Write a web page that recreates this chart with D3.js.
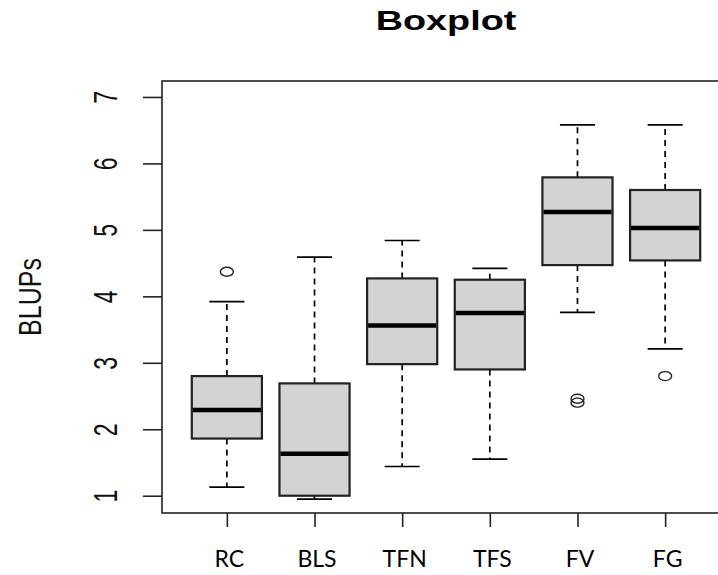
<!DOCTYPE html>
<html>
<head>
<meta charset="utf-8">
<script src="https://cdn.jsdelivr.net/npm/d3@7"></script>
<style>
  html, body { margin: 0; padding: 0; background: #fff; }
  svg { display: block; }
</style>
</head>
<body>
<div id="chart"></div>
<script>
// Values
const categories = ['RC', 'BLS', 'TFN', 'TFS', 'FV', 'FG'];
const whiskerLow = [1.13, 0.95, 1.44, 1.55, 3.76, 3.21];
const q1 = [1.86, 1.00, 2.98, 2.90, 4.47, 4.54];
const medians = [2.29, 1.63, 3.56, 3.75, 5.27, 5.03];
const q3 = [2.80, 2.69, 4.27, 4.25, 5.79, 5.60];
const whiskerHigh = [3.92, 4.59, 4.84, 4.42, 6.58, 6.58];
const outliers = [[4.37], [], [], [], [2.46, 2.40], [2.80]];
const yTicks = [1, 2, 3, 4, 5, 6, 7];

const W = 718, H = 575;
const plot = { left: 162, top: 81, right: 730, bottom: 513 };

const svg = d3.select('#chart').append('svg')
  .attr('width', W)
  .attr('height', H);

// scales (R style: 4% padding around the data range)
const x = d3.scaleLinear()
  .domain([0.26, 6.74])
  .range([plot.left, plot.right]);

const y = d3.scaleLinear()
  .domain([0.74, 7.24])
  .range([plot.bottom, plot.top]);

const boxW = x(1.8) - x(1);   // boxwex 0.8
const capW = boxW / 2;

const boxes = categories.map((c, i) => ({
  name: c, pos: i + 1,
  lo: whiskerLow[i], q1: q1[i], med: medians[i], q3: q3[i], hi: whiskerHigh[i],
  out: outliers[i]
}));

const g = svg.append('g');

// whiskers
g.selectAll('.whisker')
  .data(boxes)
  .enter()
  .append('g')
  .each(function(d) {
    const s = d3.select(this);
    const cx = x(d.pos);
    s.append('line')
      .attr('x1', cx).attr('x2', cx)
      .attr('y1', y(d.q3)).attr('y2', y(d.hi))
      .attr('stroke', '#000').attr('stroke-width', 1.7)
      .attr('stroke-dasharray', '6,5');
    s.append('line')
      .attr('x1', cx).attr('x2', cx)
      .attr('y1', y(d.q1)).attr('y2', y(d.lo))
      .attr('stroke', '#000').attr('stroke-width', 1.7)
      .attr('stroke-dasharray', '6,5');
    s.selectAll('.cap')
      .data([d.lo, d.hi])
      .enter()
      .append('line')
      .attr('x1', cx - capW / 2).attr('x2', cx + capW / 2)
      .attr('y1', v => y(v)).attr('y2', v => y(v))
      .attr('stroke', '#000').attr('stroke-width', 1.7);
  });

// boxes
g.selectAll('.box')
  .data(boxes)
  .enter()
  .append('rect')
  .attr('class', 'box')
  .attr('x', d => x(d.pos) - boxW / 2)
  .attr('y', d => y(d.q3))
  .attr('width', boxW)
  .attr('height', d => y(d.q1) - y(d.q3))
  .attr('fill', '#d3d3d3')
  .attr('stroke', '#222')
  .attr('stroke-width', 2.2);

// medians
g.selectAll('.median')
  .data(boxes)
  .enter()
  .append('line')
  .attr('x1', d => x(d.pos) - boxW / 2 + 1)
  .attr('x2', d => x(d.pos) + boxW / 2 - 1)
  .attr('y1', d => y(d.med))
  .attr('y2', d => y(d.med))
  .attr('stroke', '#000')
  .attr('stroke-width', 4.5);

// outliers
const outPts = boxes.flatMap(d => d.out.map(v => ({ pos: d.pos, v: v })));
g.selectAll('.outlier')
  .data(outPts)
  .enter()
  .append('ellipse')
  .attr('cx', d => x(d.pos))
  .attr('cy', d => y(d.v))
  .attr('rx', 6.5)
  .attr('ry', 4.5)
  .attr('fill', 'none')
  .attr('stroke', '#222')
  .attr('stroke-width', 1.4);

// frame
svg.append('rect')
  .attr('x', plot.left)
  .attr('y', plot.top)
  .attr('width', plot.right - plot.left)
  .attr('height', plot.bottom - plot.top)
  .attr('fill', 'none')
  .attr('stroke', '#222')
  .attr('stroke-width', 1.6);

// y axis
const yAxis = svg.append('g')
  .attr('transform', `translate(${plot.left},0)`)
  .call(d3.axisLeft(y).tickValues(yTicks).tickFormat(d3.format('d'))
    .tickSize(19).tickSizeOuter(0));
yAxis.select('.domain').remove();
yAxis.selectAll('line').attr('stroke', '#222').attr('stroke-width', 1.6);
yAxis.selectAll('text')
  .attr('x', null)
  .attr('dy', null)
  .attr('transform', 'translate(-45,0) scale(1.45,1) rotate(-90)')
  .attr('text-anchor', 'middle')
  .style('font-family', '"Liberation Sans", Arial, sans-serif')
  .style('font-size', '23px')
  .attr('fill', '#111');

// x axis
const xAxis = svg.append('g')
  .attr('transform', `translate(0,${plot.bottom})`)
  .call(d3.axisBottom(x).tickValues(boxes.map(d => d.pos))
    .tickFormat(d => categories[d - 1]).tickSize(14).tickSizeOuter(0));
xAxis.select('.domain').remove();
xAxis.selectAll('line').attr('stroke', '#222').attr('stroke-width', 1.6);
xAxis.selectAll('text')
  .attr('y', 54)
  .attr('dy', null)
  .attr('x', 2)
  .attr('text-anchor', 'middle')
  .style('font-family', 'Lato, "Open Sans", sans-serif')
  .style('font-size', '23px')
  .attr('fill', '#000');

// title
svg.append('text')
  .attr('transform', `translate(${(plot.left + plot.right) / 2},30) scale(1.4,1)`)
  .attr('text-anchor', 'middle')
  .style('font-family', '"Liberation Sans", Arial, sans-serif')
  .style('font-weight', 'bold')
  .style('font-size', '27px')
  .text('Boxplot');

// y label
svg.append('text')
  .attr('transform', `translate(41,${(plot.top + plot.bottom) / 2}) scale(1.25,1) rotate(-90)`)
  .attr('text-anchor', 'middle')
  .style('font-family', '"Liberation Sans", Arial, sans-serif')
  .style('font-size', '25px')
  .attr('fill', '#111')
  .text('BLUPs');
</script>
</body>
</html>
